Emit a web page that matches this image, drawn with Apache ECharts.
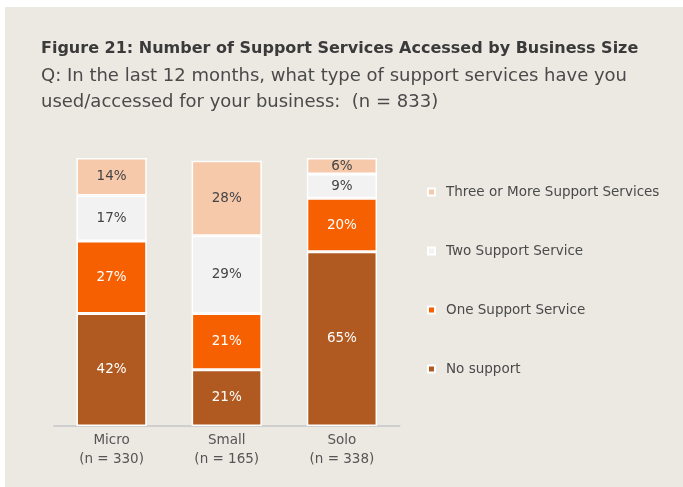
<!DOCTYPE html>
<html>
<head>
<meta charset="utf-8">
<script src="https://cdn.jsdelivr.net/npm/echarts@6/dist/echarts.min.js"></script>
<style>
html,body{margin:0;padding:0;background:#fff;}
#chart{width:683px;height:487px;}
</style>
</head>
<body>
<div id="chart"></div>
<script>
var categories = ['Micro\n(n = 330)', 'Small\n(n = 165)', 'Solo\n(n = 338)'];
var seriesNames = ['No support', 'One Support Service', 'Two Support Service', 'Three or More Support Services'];
var noSupport = [42, 21, 65];
var oneService = [27, 21, 20];
var twoService = [17, 29, 9];
var threeOrMore = [14, 28, 6];
var legendOrder = ['Three or More Support Services', 'Two Support Service', 'One Support Service', 'No support'];

var colors = ['#B05A22', '#F66000', '#F2F2F2', '#F7C9AB'];
var labelColors = ['#ffffff', '#ffffff', '#444444', '#444444'];
var values = [noSupport, oneService, twoService, threeOrMore];
var FONT = '"DejaVu Sans", sans-serif';

var chart = echarts.init(document.getElementById('chart'));
var series = seriesNames.map(function (name, i) {
  return {
    name: name,
    type: 'bar',
    stack: 'total',
    barWidth: '61%',
    data: values[i],
    itemStyle: { color: colors[i], borderColor: '#ffffff', borderWidth: 1.5 },
    label: {
      show: true,
      position: 'inside',
      formatter: '{c}%',
      color: labelColors[i],
      fontFamily: FONT,
      fontSize: 13.5
    },
    emphasis: { disabled: true }
  };
});

chart.setOption({
  animation: false,
  backgroundColor: '#ffffff',
  graphic: [{
    type: 'rect',
    z: -10,
    silent: true,
    shape: { x: 5, y: 7, width: 690, height: 490 },
    style: { fill: '#ECE9E3' }
  }],
  title: [{
    text: 'Figure 21: Number of Support Services Accessed by Business Size',
    left: 36,
    top: 34,
    textStyle: { fontFamily: FONT, fontWeight: 'bold', fontSize: 16, lineHeight: 20, color: '#3a3a3a' }
  }, {
    text: 'Q: In the last 12 months, what type of support services have you\nused/accessed for your business:  (n = 833)',
    left: 36,
    top: 58,
    textStyle: { fontFamily: FONT, fontWeight: 'normal', fontSize: 18, lineHeight: 26, color: '#4a4a4a' }
  }],
  legend: {
    orient: 'vertical',
    left: 422,
    top: 180,
    data: legendOrder,
    icon: 'rect',
    itemWidth: 7,
    itemHeight: 7,
    itemGap: 45,
    selectedMode: false,
    textStyle: { fontFamily: FONT, fontSize: 13.5, lineHeight: 14, color: '#4a4a4a', padding: [0, 0, 0, 6] }
  },
  grid: { left: 54, right: 283.5, top: 158, bottom: 61, containLabel: false },
  xAxis: {
    type: 'category',
    data: categories,
    axisLine: { show: true, lineStyle: { color: '#cfcfcf', width: 2 } },
    axisTick: { show: false },
    axisLabel: { fontFamily: FONT, fontSize: 13.5, color: '#555555', lineHeight: 19, margin: 5 }
  },
  yAxis: {
    type: 'value',
    min: 0,
    max: 100,
    show: false
  },
  series: series
});
</script>
</body>
</html>
